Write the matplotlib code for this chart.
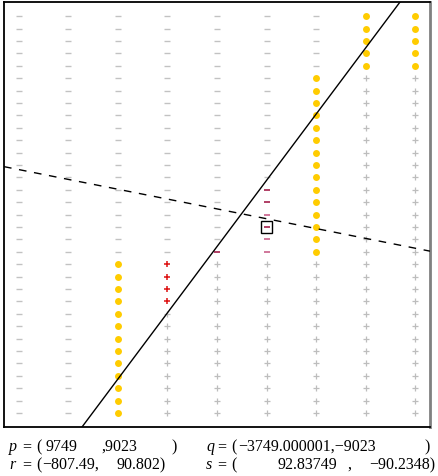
import matplotlib
matplotlib.use("Agg")
import matplotlib.pyplot as plt
from matplotlib.patches import Rectangle

# Sample grid: 9 columns x 33 rows, each column given as runs from the top row down.
# codes: n = neutral minus, p = neutral plus, o = highlighted point,
#        R = flagged plus, m = flagged minus, k = weak flagged minus
columns = [
    [("n", 33)],
    [("n", 33)],
    [("n", 20), ("o", 13)],
    [("n", 20), ("R", 4), ("p", 9)],
    [("n", 19), ("m", 1), ("p", 13)],
    [("n", 14), ("m", 2), ("k", 1), ("m", 1), ("k", 2), ("p", 13)],
    [("n", 5), ("o", 15), ("p", 13)],
    [("o", 5), ("p", 28)],
    [("o", 5), ("p", 28)],
]
n_rows = 33

# Selected sample (column, row from top)
selected = (5, 17)

# Decision lines: point + slope in grid units
solid_point, solid_slope = (1.273, -1.13), 5.336
dashed_point, dashed_slope = (-0.303, 19.87), -0.792

styles = {
    "n": dict(marker="_", color="#c2c2c2", ms=4.6, mew=1.0),
    "p": dict(marker="+", color="#bdbdbd", ms=4.8, mew=0.9),
    "o": dict(marker="o", color="#ffcc00", ms=5.0, mew=0),
    "R": dict(marker="+", color="#dd1111", ms=4.8, mew=1.1),
    "m": dict(marker="_", color="#a31f4c", ms=4.6, mew=1.2),
    "k": dict(marker="_", color="#c8608a", ms=4.6, mew=1.2),
}

W, H = 439, 477
fig = plt.figure(figsize=(W / 100, H / 100), dpi=100)
ax = fig.add_axes([4 / W, (H - 428) / H, 426 / W, 425 / H])

pts = {k: ([], []) for k in styles}
for ci, runs in enumerate(columns):
    r = 0
    for code, cnt in runs:
        for _ in range(cnt):
            pts[code][0].append(ci)
            pts[code][1].append(n_rows - 1 - r)
            r += 1

for code, (xs, ys) in pts.items():
    st = styles[code]
    ax.plot(xs, ys, linestyle="none", marker=st["marker"], color=st["color"],
            markersize=st["ms"], markeredgewidth=st["mew"],
            markeredgecolor=st["color"], zorder=2)

ax.axline(solid_point, slope=solid_slope, color="black", lw=1.0, zorder=3)
ax.axline(dashed_point, slope=dashed_slope, color="black", lw=1.0,
          dashes=(5.5, 5.5), zorder=3)

sx, sy = selected[0], n_rows - 1 - selected[1]
ax.add_patch(Rectangle((sx - 0.12, sy - 0.48), 0.24, 0.96, fill=False,
                       edgecolor="black", lw=1.0, zorder=4))

ax.set_xlim(-0.303, 8.303)
ax.set_ylim(-1.13, 33.15)
ax.set_xticks([])
ax.set_yticks([])
for side in ("left", "top", "bottom"):
    ax.spines[side].set_color("black")
    ax.spines[side].set_linewidth(1.3)
ax.spines["right"].set_color("#808080")
ax.spines["right"].set_linewidth(2.0)

# Coordinate labels under the plot
fs = 11.5
font = dict(family="Liberation Serif", fontsize=fs)
ital = dict(family="Liberation Serif", fontsize=fs, style="italic")

def put(x, y, s, **kw):
    fig.text(x / W, 1 - y / H, s, ha="left", va="baseline", **(kw or font))

y1, y2 = 451, 469
for yy, name in ((y1, "p"), (y2, "r")):
    put(9, yy, name, **ital)
    put(22, yy, "=")
    put(36, yy, "(")
for yy, name in ((y1, "q"), (y2, "s")):
    put(206, yy, name, **ital)
    put(217, yy, "=")
    put(231, yy, "(")

put(46, y1, "9749")
put(101, y1, ",9023")
put(171, y1, ")")
put(238, y1, "\u22123749.000001,\u22129023")
put(424, y1, ")")

put(42, y2, "\u2212807.49,")
put(117, y2, "90.802)")
put(278, y2, "92.83749")
put(347, y2, ",")
put(369, y2, "\u221290.2348)")

fig.savefig("out.png", dpi=100)
